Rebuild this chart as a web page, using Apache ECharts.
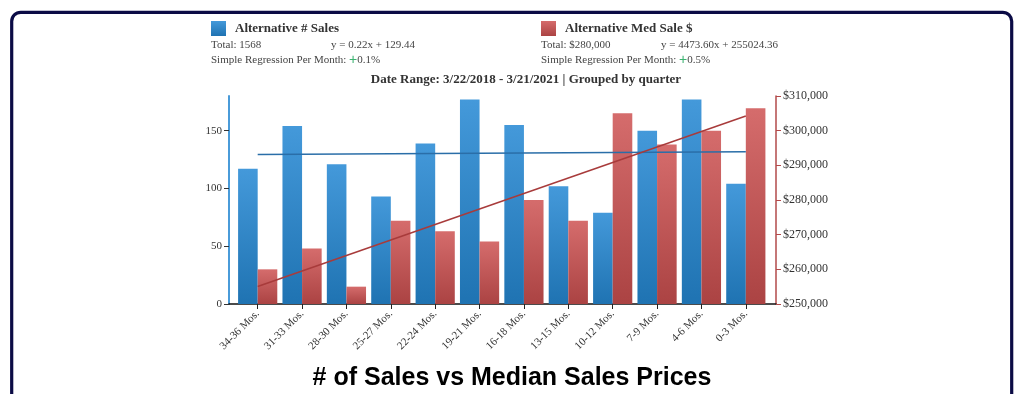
<!DOCTYPE html>
<html>
<head>
<meta charset="utf-8">
<script src="https://cdn.jsdelivr.net/npm/echarts@6/dist/echarts.min.js"></script>
<style>
html,body{margin:0;padding:0;background:#fff;}
#chart{width:1024px;height:394px;}
</style>
</head>
<body>
<div id="chart"></div>
<script>
const categories = ['34-36 Mos.','31-33 Mos.','28-30 Mos.','25-27 Mos.','22-24 Mos.','19-21 Mos.','16-18 Mos.','13-15 Mos.','10-12 Mos.','7-9 Mos.','4-6 Mos.','0-3 Mos.'];
const salesCounts = [117,154,121,93,139,177,155,102,79,150,177,104];
const medianPrices = [260000,266000,255000,274000,271000,268000,280000,274000,305000,296000,300000,306500];
const salesTrendEnds = [129.44, 131.86];
const priceTrendEnds = [255024.36, 304233.96];
const leftTicks = [0,50,100,150];
const rightTicks = [250000,260000,270000,280000,290000,300000,310000];

const serif = '"Liberation Serif","DejaVu Serif",serif';
const sans = '"Liberation Sans",Arial,sans-serif';
const last = categories.length - 1;
const trendData = ends => categories.map((c,i) => i === 0 ? ends[0] : (i === last ? ends[1] : null));
const money = v => '$' + v.toLocaleString('en-US');

const blueGrad = () => new echarts.graphic.LinearGradient(0,0,0,1,[{offset:0,color:'#4499da'},{offset:1,color:'#1f73b2'}]);
const redGrad = () => new echarts.graphic.LinearGradient(0,0,0,1,[{offset:0,color:'#d56c6c'},{offset:1,color:'#ab4343'}]);

const chart = echarts.init(document.getElementById('chart'), null, {renderer:'canvas'});
chart.setOption({
  animation:false,
  grid:[
    {left:235.5, right:256, top:96, bottom:90},
    {left:229, right:248, top:96, bottom:90}
  ],
  xAxis:[
    {type:'category', gridIndex:0, data:categories, boundaryGap:true,
     axisLine:{show:false},
     axisTick:{show:true, alignWithLabel:true, length:5, lineStyle:{color:'#222'}},
     axisLabel:{rotate:45, margin:8, fontFamily:serif, fontSize:11, color:'#333'}},
    {type:'value', gridIndex:1, min:0, max:1,
     axisLine:{show:true, lineStyle:{color:'#111', width:1.5}},
     axisTick:{show:false}, axisLabel:{show:false}, splitLine:{show:false}}
  ],
  yAxis:[
    {type:'value', gridIndex:0, position:'left', offset:6.5, min:0, max:180, interval:50,
     axisLine:{show:true, lineStyle:{color:'#4a9bd9', width:2}},
     axisTick:{show:true, length:5, customValues:leftTicks, lineStyle:{color:'#333'}},
     axisLabel:{customValues:leftTicks, fontFamily:serif, fontSize:11, color:'#333', margin:7},
     splitLine:{show:false}},
    {type:'value', gridIndex:0, position:'right', offset:8, min:250000, max:310000, interval:10000,
     axisLine:{show:true, lineStyle:{color:'#b24a4a', width:1.5}},
     axisTick:{show:true, length:5, lineStyle:{color:'#b24a4a'}},
     axisLabel:{formatter:money, fontFamily:serif, fontSize:12, color:'#333', margin:7},
     splitLine:{show:false}},
    {type:'value', gridIndex:1, show:false}
  ],
  series:[
    {type:'bar', name:'Alternative # Sales', xAxisIndex:0, yAxisIndex:0, data:salesCounts,
     barWidth:19.6, barGap:'0%', itemStyle:{color:blueGrad()}},
    {type:'bar', name:'Alternative Med Sale $', xAxisIndex:0, yAxisIndex:1, data:medianPrices,
     barWidth:19.6, barGap:'0%', itemStyle:{color:redGrad()}},
    {type:'line', xAxisIndex:0, yAxisIndex:0, data:trendData(salesTrendEnds), connectNulls:true,
     symbol:'none', lineStyle:{color:'#2a6ea8', width:1.5}, z:5},
    {type:'line', xAxisIndex:0, yAxisIndex:1, data:trendData(priceTrendEnds), connectNulls:true,
     symbol:'none', lineStyle:{color:'#a83b3b', width:1.5}, z:5}
  ],
  graphic:[
    {type:'rect', shape:{x:11.7, y:12.3, width:1000, height:420, r:9},
     style:{fill:'none', stroke:'#0b0b45', lineWidth:3.2}, silent:true},
    {type:'rect', shape:{x:211, y:21, width:15, height:15}, style:{fill:blueGrad()}},
    {type:'text', x:235, y:29, style:{text:'Alternative # Sales', font:'bold 13px '+serif, fill:'#333', verticalAlign:'middle'}},
    {type:'text', x:211, y:45, style:{text:'Total: 1568', font:'11px '+serif, fill:'#444', verticalAlign:'middle'}},
    {type:'text', x:331, y:45, style:{text:'y = 0.22x + 129.44', font:'11px '+serif, fill:'#444', verticalAlign:'middle'}},
    {type:'text', x:211, y:60, style:{text:'{a|Simple Regression Per Month: }{g|+}{a|0.1%}', verticalAlign:'middle',
      rich:{a:{font:'11px '+serif, fill:'#444'}, g:{font:'14px '+sans, fill:'#3cb371'}}}},
    {type:'rect', shape:{x:541, y:21, width:15, height:15}, style:{fill:redGrad()}},
    {type:'text', x:565, y:29, style:{text:'Alternative Med Sale $', font:'bold 13px '+serif, fill:'#333', verticalAlign:'middle'}},
    {type:'text', x:541, y:45, style:{text:'Total: $280,000', font:'11px '+serif, fill:'#444', verticalAlign:'middle'}},
    {type:'text', x:661, y:45, style:{text:'y = 4473.60x + 255024.36', font:'11px '+serif, fill:'#444', verticalAlign:'middle'}},
    {type:'text', x:541, y:60, style:{text:'{a|Simple Regression Per Month: }{g|+}{a|0.5%}', verticalAlign:'middle',
      rich:{a:{font:'11px '+serif, fill:'#444'}, g:{font:'14px '+sans, fill:'#3cb371'}}}},
    {type:'text', x:526, y:80, style:{text:'Date Range: 3/22/2018 - 3/21/2021 | Grouped by quarter', font:'bold 13px '+serif, fill:'#333', align:'center', verticalAlign:'middle'}},
    {type:'text', x:512, y:378, style:{text:'# of Sales vs Median Sales Prices', font:'bold 25px '+sans, fill:'#000', align:'center', verticalAlign:'middle'}}
  ]
});
</script>
</body>
</html>
